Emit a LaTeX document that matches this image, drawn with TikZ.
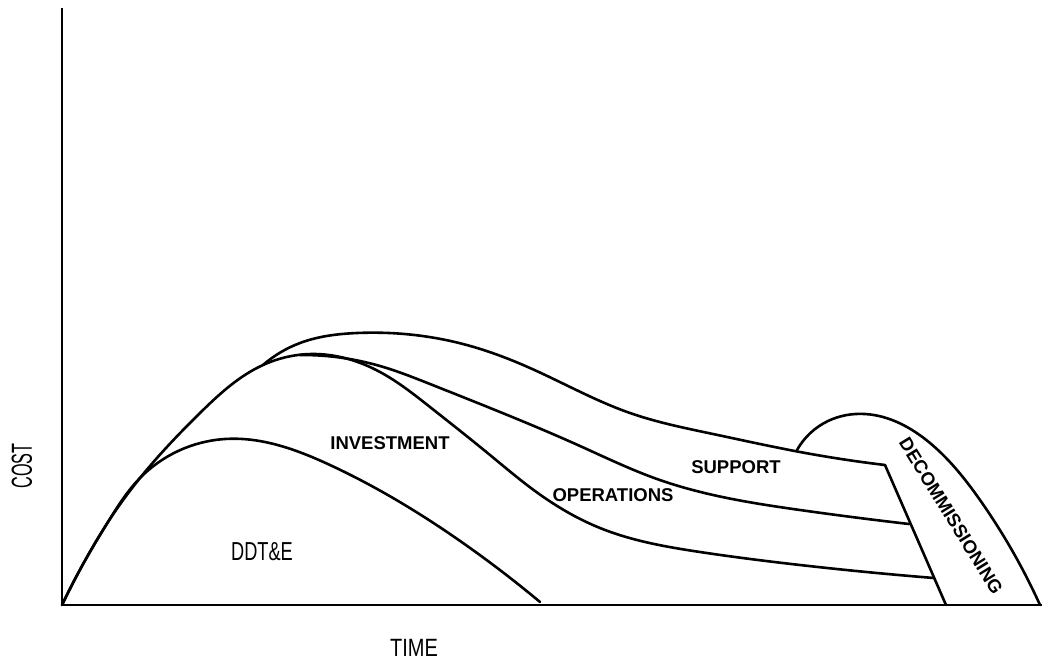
\documentclass[tikz,border=0pt]{standalone}
\usepackage{fontspec}
\setmainfont{Liberation Sans}
\usetikzlibrary{hobby}
\begin{document}
\begin{tikzpicture}[x=1pt,y=-1pt,
  curve/.style={line width=2.6pt, line join=round, line cap=round, use Hobby shortcut},
  axis/.style={line width=2.8pt},
  lbl/.style={inner sep=0pt, text=black},
  bl/.style={lbl, font=\bfseries\fontsize{18.5}{18.5}\selectfont}]
\useasboundingbox (0,0) rectangle (1042,662);
% axes
\coordinate (O) at (62,605);
\coordinate (ytop) at (62,8);
\coordinate (xend) at (1042,605);
\draw[axis] (ytop) -- (O) -- (xend);
% junction points
\coordinate (split1) at (140,478);
\coordinate (split2) at (263,365);
\coordinate (supEnd) at (885,465);
\coordinate (slantEnd) at (946,605);
\coordinate (midEnd) at (909,524);
\coordinate (lowEnd) at (934,578);
\coordinate (decStart) at (797,450);
\coordinate (decEnd) at (1040,605);
% DDT&E curve
\draw[curve] (O) .. (82,566) .. (108,522) .. (split1) .. (225,439) .. (330,465) .. (463,543) .. (540,602);
% investment / operations lower curve
\draw[curve] (O) .. (82,566) .. (108,522) .. (split1) .. (200,413) .. (split2) .. (315,354) .. (380,372) .. (430,407) .. (490,455) .. (535,491) .. (600,528) .. (700,552) .. (800,565) .. (lowEnd);
% operations upper / support lower curve
\draw[curve] (300,355) .. (380,366) .. (430,384) .. (500,412) .. (580,446) .. (657,479) .. (800,510) .. (midEnd);
% support upper (outer envelope)
\draw[curve] (split2) .. (300,343) .. (357,333) .. (463,344) .. (530,368) .. (630,413) .. (713,434) .. (800,452) .. (supEnd);
% slanted end line
\draw[curve] (supEnd) -- (slantEnd);
% decommissioning arc
\draw[curve] (decStart) .. (828,421) .. (865,414) .. (930,443) .. (980,500) .. (decEnd);
% labels
\node[lbl, font=\fontsize{26}{26}\selectfont] (ddte) at (262,552) {\scalebox{0.7}[1]{DDT\&E}};
\node[bl] (inv) at (390,443) {INVESTMENT};
\node[bl] (ops) at (613,495) {OPERATIONS};
\node[bl] (sup) at (736,467) {SUPPORT};
\node[bl, rotate=-58.3] (dec) at (951,516) {DECOMMISSIONING};
\node[lbl, font=\fontsize{29}{29}\selectfont, rotate=90] (cost) at (22,466) {\scalebox{0.56}[1]{COST}};
\node[lbl, font=\fontsize{25}{25}\selectfont] (time) at (414,648) {\scalebox{0.8}[1]{TIME}};
\end{tikzpicture}
\end{document}
